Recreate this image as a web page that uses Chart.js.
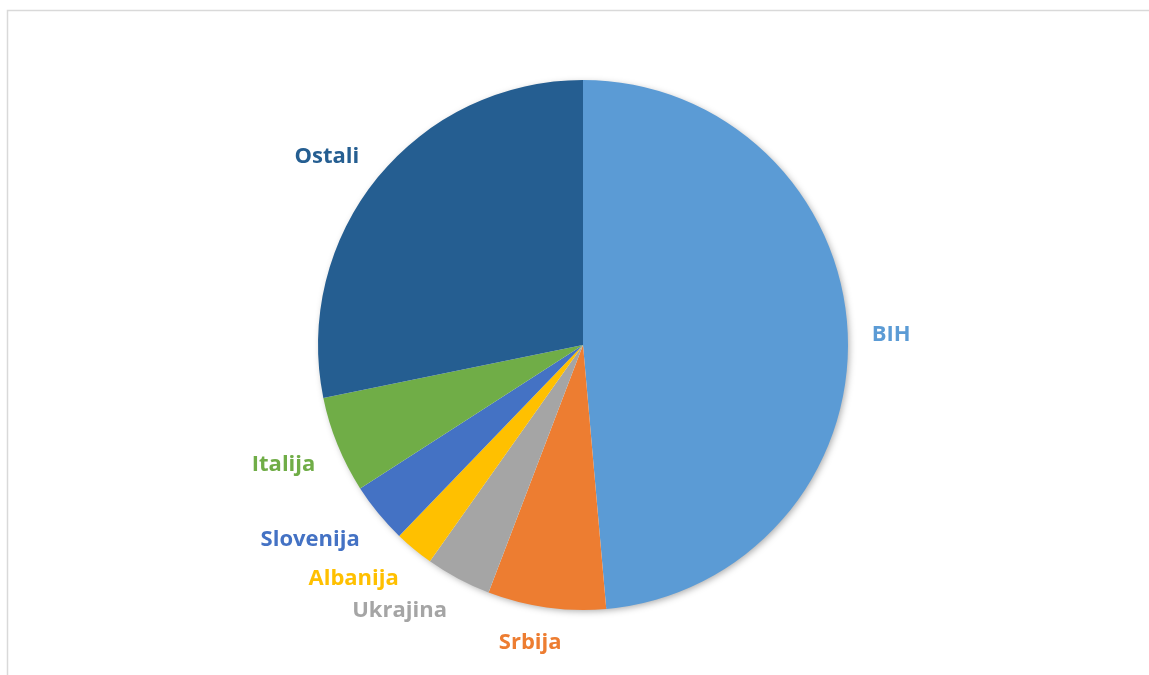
<!DOCTYPE html>
<html>
<head>
<meta charset="utf-8">
<script src="https://cdn.jsdelivr.net/npm/chart.js@4"></script>
<style>
    html, body { margin: 0; padding: 0; background: #ffffff; }
    #wrap { position: relative; width: 1149px; height: 675px; }
</style>
</head>
<body>
<div id="wrap"><canvas id="pie-zemlje"></canvas></div>
<script>
const zemlje = ['BIH', 'Srbija', 'Ukrajina', 'Albanija', 'Slovenija', 'Italija', 'Ostali'];
const udio = [48.6, 7.2, 4.0, 2.4, 3.7, 5.9, 28.2];
const boje = ['#5B9BD5', '#ED7D31', '#A5A5A5', '#FFC000', '#4472C4', '#70AD47', '#255E91'];

// okvir oko grafikona (kao u Excelu)
const okvirPlugin = {
    id: 'okvir',
    beforeDraw(chart) {
        const ctx = chart.ctx;
        ctx.save();
        ctx.strokeStyle = '#d9d9d9';
        ctx.lineWidth = 1.5;
        ctx.beginPath();
        ctx.moveTo(7.5, 700);
        ctx.lineTo(7.5, 10.5);
        ctx.lineTo(1200, 10.5);
        ctx.stroke();
        ctx.restore();
    }
};

// blaga sjena ispod pite
const sjenaPlugin = {
    id: 'sjena',
    beforeDatasetsDraw(chart) {
        const arc = chart.getDatasetMeta(0).data[0];
        if (!arc) return;
        const ctx = chart.ctx;
        ctx.save();
        ctx.shadowColor = 'rgba(0, 0, 0, 0.35)';
        ctx.shadowBlur = 7;
        ctx.shadowOffsetX = 2;
        ctx.shadowOffsetY = 2;
        ctx.fillStyle = '#ffffff';
        ctx.beginPath();
        ctx.arc(arc.x, arc.y, arc.outerRadius - 1, 0, Math.PI * 2);
        ctx.fill();
        ctx.restore();
    }
};

const clamp = (v) => Math.max(-1, Math.min(1, v));

// nazivi izvan kriske, pomaknuti od zrake kroz sredinu kriske
const oznakePlugin = {
    id: 'oznake',
    afterDatasetsDraw(chart) {
        const ctx = chart.ctx;
        const meta = chart.getDatasetMeta(0);
        ctx.save();
        ctx.font = 'bold 22px "Open Sans", sans-serif';
        ctx.textAlign = 'center';
        ctx.textBaseline = 'middle';
        meta.data.forEach((arc, i) => {
            const mid = (arc.startAngle + arc.endAngle) / 2;
            const cos = Math.cos(mid);
            const sin = Math.sin(mid);
            const d = arc.outerRadius + 24;
            const w = ctx.measureText(zemlje[i]).width;
            const cx = arc.x + cos * d + clamp(cos * 3) * w / 2;
            const cy = arc.y + sin * d + clamp(sin * 3) * 8 + 3;
            ctx.fillStyle = boje[i];
            ctx.fillText(zemlje[i], cx, cy);
        });
        ctx.restore();
    }
};

const ctx = document.getElementById('pie-zemlje').getContext('2d');
new Chart(ctx, {
    type: 'pie',
    data: {
        labels: zemlje,
        datasets: [{
            data: udio,
            backgroundColor: boje,
            borderWidth: 0
        }]
    },
    options: {
        responsive: true,
        maintainAspectRatio: false,
        animation: false,
        radius: 265,
        layout: {
            padding: { left: 17, right: 0, top: 15, bottom: 0 }
        },
        plugins: {
            legend: { display: false },
            tooltip: { enabled: false }
        }
    },
    plugins: [okvirPlugin, sjenaPlugin, oznakePlugin]
});
</script>
</body>
</html>
